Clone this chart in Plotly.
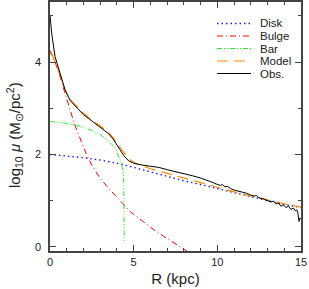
import plotly.graph_objects as go

# ---- data ----
disk_r = [0, 1, 2, 3, 4, 5, 6, 7, 8, 9, 10, 11, 12, 13, 14, 15]
disk_y = [2.00, 1.97, 1.93, 1.88, 1.81, 1.72, 1.62, 1.52, 1.43, 1.35, 1.26, 1.17, 1.08, 1.00, 0.92, 0.85]

bulge_r = [0, 0.2, 0.5, 0.7, 1.0, 1.3, 1.5, 1.9, 2.2, 2.5, 3.0, 3.6, 4.0, 4.4, 4.8, 5.7, 6.2, 7.0, 8.0, 8.3]
bulge_y = [4.25, 4.10, 3.80, 3.55, 3.18, 2.85, 2.62, 2.24, 1.98, 1.77, 1.48, 1.23, 1.07, 0.90, 0.76, 0.51, 0.37, 0.18, -0.05, -0.12]

bar_r = [0, 0.5, 1.0, 1.5, 2.0, 2.5, 3.0, 3.5, 3.9, 4.1, 4.25, 4.35, 4.40, 4.42, 4.43, 4.44]
bar_y = [2.71, 2.70, 2.67, 2.64, 2.59, 2.52, 2.43, 2.29, 2.14, 1.97, 1.82, 1.68, 1.50, 1.00, 0.50, 0.08]

model_r = [0, 0.1, 0.2, 0.3, 0.45, 0.6, 0.8, 1.0, 1.3, 1.6, 2.0, 2.5, 3.0, 3.5, 3.8, 4.2, 4.5, 4.8, 5.1, 5.5,
           6.0, 7.0, 8.0, 9.0, 10.0, 11.0, 12.0, 13.0, 14.0, 15.0]
model_y = [4.19, 4.17, 4.10, 4.01, 3.88, 3.72, 3.50, 3.30, 3.15, 3.03, 2.89, 2.74, 2.62, 2.47, 2.35, 2.15, 2.00, 1.88, 1.81, 1.76,
           1.69, 1.59, 1.49, 1.38, 1.28, 1.19, 1.10, 1.01, 0.93, 0.86]

obs_r = [0, 0.1, 0.3, 0.5, 0.7, 0.9, 1.2, 1.5, 1.7, 2.0, 2.3, 2.6, 2.9, 3.2, 3.5, 3.8, 4.1, 4.4, 4.7, 5.0,
         5.5, 6.0, 6.5, 7.0, 7.5, 8.0, 8.5, 9.0, 9.25, 9.5, 9.75, 10.0, 10.2, 10.3, 10.45, 10.6, 10.8, 11.0,
         11.25, 11.5, 11.75, 12.0, 12.2, 12.35, 12.5, 12.75, 13.0, 13.2, 13.35, 13.5, 13.65, 13.8, 13.95,
         14.1, 14.25, 14.4, 14.55, 14.65, 14.75, 14.82, 14.88, 14.93, 15.0]
obs_y = [5.02, 4.62, 4.12, 3.88, 3.62, 3.40, 3.17, 3.05, 2.97, 2.86, 2.78, 2.70, 2.63, 2.55, 2.45, 2.32, 2.15, 1.98, 1.86, 1.81,
         1.77, 1.74, 1.72, 1.67, 1.63, 1.59, 1.54, 1.49, 1.46, 1.42, 1.39, 1.35, 1.33, 1.35, 1.30, 1.31, 1.26, 1.23,
         1.21, 1.18, 1.16, 1.12, 1.10, 1.11, 1.06, 1.04, 1.00, 0.97, 0.99, 0.93, 0.95, 0.88, 0.91,
         0.85, 0.88, 0.81, 0.84, 0.78, 0.80, 0.72, 0.55, 0.62, 0.60]

series_names = ["Disk", "Bulge", "Bar", "Model", "Obs."]

FONT = "Liberation Sans, Arial, sans-serif"
TXT = "#222222"
AX = "#444444"

styles = {
    "Disk": dict(color="#1a1aff", width=1.4, dash="1.5px,3px"),
    "Bulge": dict(color="#ff0000", width=1, dash="6px,3px,1px,3px"),
    "Bar": dict(color="#22ee22", width=1, dash="5px,2px,1px,2px,1px,2px"),
    "Model": dict(color="#ff8800", width=1.2, dash="11px,6px"),
    "Obs.": dict(color="#000000", width=1),
}
xs = [disk_r, bulge_r, bar_r, model_r, obs_r]
ys = [disk_y, bulge_y, bar_y, model_y, obs_y]

fig = go.Figure()
for name, x, y in zip(series_names, xs, ys):
    fig.add_trace(go.Scatter(x=x, y=y, mode="lines", name=name, line=styles[name], showlegend=False))

# plot-area geometry (pixels)
W, H = 309, 289
ML, MR, MT, MB = 50, 8, 2, 38
pw, ph = W - ML - MR, H - MT - MB

def px_to_paper(px, py):
    return (px - ML) / pw, (H - MB - py) / ph

# manual compact legend (upper right)
for i, name in enumerate(series_names):
    row_y = 23.5 + i * 12.5
    x0, y0 = px_to_paper(217, row_y)
    x1, _ = px_to_paper(251, row_y)
    fig.add_shape(type="line", xref="paper", yref="paper", x0=x0, x1=x1, y0=y0, y1=y0,
                  line=styles[name])
    tx, ty = px_to_paper(259, row_y)
    fig.add_annotation(xref="paper", yref="paper", x=tx, y=ty, xanchor="left", yanchor="middle",
                       text=name, showarrow=False, height=12, borderpad=0,
                       font=dict(family=FONT, size=11.5, color=TXT))

# y-axis title as a rotated annotation
ytx, yty = px_to_paper(14, 135)
fig.add_annotation(xref="paper", yref="paper", x=ytx, y=yty, xanchor="center", yanchor="middle",
                   text="log<sub>10</sub> <i>μ</i> (M<sub>⊙</sub>/pc<sup>2</sup>)", textangle=-90,
                   showarrow=False, font=dict(family=FONT, size=15, color=TXT))

axis_common = dict(
    showline=True, linecolor=AX, linewidth=1.5, mirror="allticks",
    ticks="inside", ticklen=6, tickwidth=1, tickcolor=AX,
    showgrid=False, zeroline=False, automargin=False,
    tickfont=dict(family=FONT, size=11, color=TXT),
)

fig.update_xaxes(range=[0, 15], dtick=5, tick0=0, ticklabeloverflow="allow",
                 minor=dict(dtick=1, ticks="inside", ticklen=3, tickcolor=AX),
                 title=dict(text="R (kpc)", font=dict(family=FONT, size=15, color=TXT), standoff=7),
                 **axis_common)
fig.update_yaxes(range=[-0.09, 5.3], dtick=2, tick0=0,
                 minor=dict(dtick=1, ticks="inside", ticklen=3, tickcolor=AX),
                 ticklabelstandoff=5,
                 **axis_common)

fig.update_layout(
    width=W, height=H,
    margin=dict(l=ML, r=MR, t=MT, b=MB),
    paper_bgcolor="white", plot_bgcolor="white",
    showlegend=False,
)

fig.write_html("out.html", config={"displayModeBar": False},
               post_script="document.body.style.margin='0';document.body.style.overflow='hidden';")
